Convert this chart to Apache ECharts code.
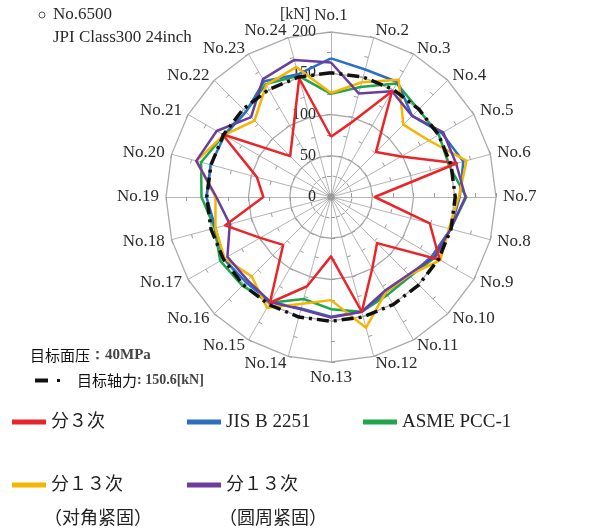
<!DOCTYPE html>
<html>
<head>
<meta charset="utf-8">
<script src="https://cdn.jsdelivr.net/npm/echarts@6/dist/echarts.min.js"></script>
<style>
  html, body { margin: 0; padding: 0; background: #fff; }
  #chart { width: 596px; height: 530px; }
</style>
</head>
<body>
<div id="chart"></div>
<script>
// Bolt positions around the flange, No.1 at the top, numbered clockwise
const positions = ['No.1', 'No.2', 'No.3', 'No.4', 'No.5', 'No.6', 'No.7', 'No.8',
  'No.9', 'No.10', 'No.11', 'No.12', 'No.13', 'No.14', 'No.15', 'No.16',
  'No.17', 'No.18', 'No.19', 'No.20', 'No.21', 'No.22', 'No.23', 'No.24'];

// Radial scale [kN]
const axisMax = 200;
const labelStep = 50;

// Bolt axial force [kN] per position, No.1 .. No.24
const pass3 = [73, 93, 148, 77, 98, 158, 53, 124, 152, 79, 100, 144,
  72, 112, 148, 82, 99, 133, 82, 93, 152, 70, 92, 149];
const jisB2251 = [168, 160, 161, 139, 155, 166, 156, 150, 142, 135, 133, 144,
  145, 140, 147, 146, 150, 145, 151, 151, 149, 146, 162, 154];
const asmePcc1 = [125, 138, 159, 150, 151, 148, 164, 150, 146, 136, 137, 144,
  136, 128, 148, 152, 155, 146, 157, 163, 150, 146, 158, 152];
const pass13Cross = [126, 144, 164, 124, 137, 170, 155, 148, 153, 134, 133, 164,
  125, 134, 155, 136, 149, 145, 140, 169, 150, 131, 157, 163];
const pass13Circ = [163, 130, 148, 139, 157, 157, 163, 150, 145, 133, 131, 144,
  146, 141, 147, 143, 145, 127, 139, 169, 160, 137, 165, 172];

// Target axial force 150.6 kN at every bolt
const targetForce = 150.6;
const target = [150.6, 150.6, 150.6, 150.6, 150.6, 150.6, 150.6, 150.6,
  150.6, 150.6, 150.6, 150.6, 150.6, 150.6, 150.6, 150.6,
  150.6, 150.6, 150.6, 150.6, 150.6, 150.6, 150.6, 150.6];

// Series labels (second line of the 13-pass entries is the tightening pattern)
const names = {
  pass3: '分３次',
  jis: 'JIS B 2251',
  asme: 'ASME PCC-1',
  cross: '分１３次\n（对角紧固）',
  circ: '分１３次\n（圆周紧固）',
  target: '目标轴力'
};

// Radar axes run counter-clockwise, so walk the positions backwards after No.1
const order = positions.map((_, i) => (i === 0 ? 0 : positions.length - i));
const reorder = arr => order.map(k => arr[k]);

const serif = 'Liberation Serif';
const cjk = 'Noto Sans CJK SC';

function radarLine(name, values, color, width, extra) {
  return Object.assign({
    type: 'radar',
    name: name,
    symbol: 'none',
    silent: true,
    lineStyle: { color: color, width: width },
    itemStyle: { color: color },
    data: [{ name: name, value: reorder(values) }]
  }, extra || {});
}

const chart = echarts.init(document.getElementById('chart'), null, { renderer: 'canvas' });

const legendText = { fontFamily: serif + ', ' + cjk, fontSize: 19, color: '#222', lineHeight: 22 };
const legendBase = {
  orient: 'horizontal',
  padding: 0,
  itemWidth: 34,
  itemHeight: 5,
  icon: 'rect',
  selectedMode: false,
  textStyle: legendText
};
const cjkLegendText = Object.assign({}, legendText, { fontSize: 18 });
const firstLine = n => n.split('\n')[0];
const secondLine = n => n.split('\n')[1];

chart.setOption({
  animation: false,
  backgroundColor: '#fff',
  radar: {
    center: [331, 197],
    radius: 165,
    startAngle: 90,
    shape: 'polygon',
    splitNumber: 8,
    nameGap: 7,
    axisName: { color: '#2a2a2a', fontFamily: serif, fontSize: 17 },
    indicator: order.map((k, i) => {
      const ind = { name: positions[k], min: 0, max: axisMax };
      if (i === 0) {
        ind.axisLabel = {
          show: true,
          margin: 15,
          color: '#2a2a2a',
          fontFamily: serif,
          fontSize: 16,
          formatter: v => (v % labelStep === 0 ? String(v) : '')
        };
      }
      return ind;
    }),
    axisLine: { lineStyle: { color: '#b4b4b4', width: 1 } },
    axisTick: { show: true, length: 4, lineStyle: { color: '#9a9a9a', width: 1 } },
    axisLabel: { show: false },
    splitLine: { lineStyle: { color: ['#ababab', 'rgba(0,0,0,0)'], width: 1.3 } },
    splitArea: { show: false }
  },
  legend: [
    Object.assign({}, legendBase, { left: 12, top: 411, data: [names.pass3], textStyle: cjkLegendText }),
    Object.assign({}, legendBase, { left: 187, top: 411, data: [names.jis] }),
    Object.assign({}, legendBase, { left: 363, top: 411, data: [names.asme] }),
    Object.assign({}, legendBase, { left: 12, top: 474, data: [names.cross], formatter: firstLine, textStyle: cjkLegendText }),
    Object.assign({}, legendBase, { left: 187, top: 474, data: [names.circ], formatter: firstLine, textStyle: cjkLegendText }),
    Object.assign({}, legendBase, {
      left: 35, top: 373, data: [names.target],
      icon: 'path://M0,0H13V4H0Z M22,0.5H25V3.5H22Z',
      itemWidth: 25, itemHeight: 4,
      formatter: n => '{c|' + n + '}{n|: ' + targetForce + '[kN]}',
      textStyle: {
        padding: [0, 0, 0, 12],
        rich: {
          c: { fontFamily: cjk, fontSize: 15, color: '#111' },
          n: { fontFamily: serif, fontSize: 14, fontWeight: 'bold', color: '#444' }
        }
      }
    })
  ],
  graphic: [
    { type: 'circle', shape: { cx: 42, cy: 15, r: 3 }, style: { fill: 'none', stroke: '#555', lineWidth: 1 } },
    { type: 'text', x: 53, y: 15, style: { text: 'No.6500', font: '17px "Liberation Serif"', fill: '#2a2a2a', verticalAlign: 'middle' } },
    { type: 'text', x: 53, y: 38, style: { text: 'JPI Class300 24inch', font: '17px "Liberation Serif"', fill: '#2a2a2a', verticalAlign: 'middle' } },
    { type: 'text', x: 280, y: 15, style: { text: '[kN]', font: '16px "Liberation Serif"', fill: '#2a2a2a', verticalAlign: 'middle' } },
    { type: 'text', x: 30, y: 355, style: {
      text: '{c|目标面压}{n|：40MPa}', verticalAlign: 'middle',
      rich: {
        c: { fontFamily: cjk, fontSize: 15, fill: '#111' },
        n: { fontFamily: serif, fontSize: 15, fontWeight: 'bold', fill: '#444' }
      }
    } },
    // Tightening pattern under the two 13-pass legend entries
    { type: 'text', x: 44, y: 517, style: { text: secondLine(names.cross), font: '18px "Noto Sans CJK SC"', fill: '#222', verticalAlign: 'middle' } },
    { type: 'text', x: 219, y: 517, style: { text: secondLine(names.circ), font: '18px "Noto Sans CJK SC"', fill: '#222', verticalAlign: 'middle' } }
  ],
  series: [
    radarLine(names.asme, asmePcc1, '#1fa64a', 2.5, { z: 2 }),
    radarLine(names.jis, jisB2251, '#2b6fc2', 2.5, { z: 3 }),
    radarLine(names.cross, pass13Cross, '#f7b400', 2.5, { z: 4 }),
    radarLine(names.circ, pass13Circ, '#6a3d9f', 2.5, { z: 5 }),
    radarLine(names.pass3, pass3, '#e8262a', 2.5, { z: 6 }),
    radarLine(names.target, target, '#111111', 3.5, {
      z: 7,
      lineStyle: { color: '#111111', width: 3.5, type: [12, 5, 3, 5] }
    })
  ]
});
</script>
</body>
</html>
